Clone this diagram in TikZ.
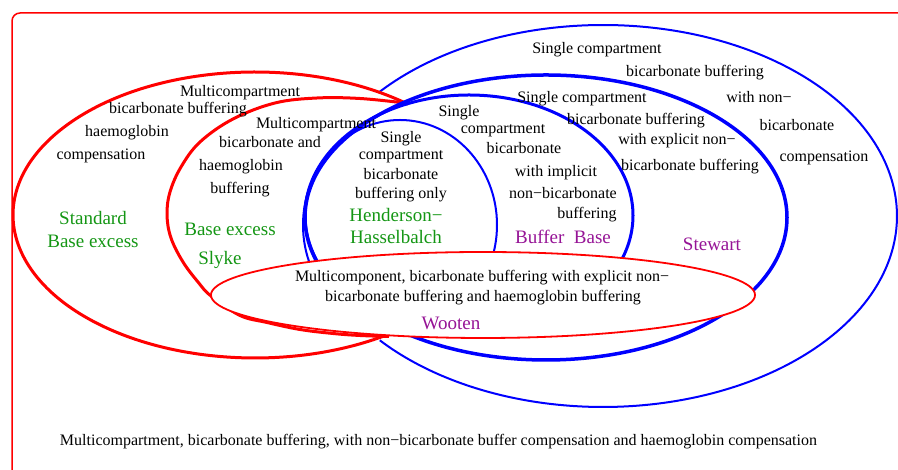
\documentclass[tikz,border=0pt]{standalone}
\usepackage{fontspec}
\setmainfont{Liberation Serif}
\definecolor{lgreen}{RGB}{20,150,20}
\definecolor{lpurple}{RGB}{150,20,150}
\begin{document}
\begin{tikzpicture}[x=1pt,y=1pt,
  txt/.style={font=\fontsize{16}{18}\selectfont, inner sep=0pt, anchor=center, execute at begin node=\strut},
  lbl/.style={font=\fontsize{19}{22}\selectfont, inner sep=0pt, anchor=center, execute at begin node=\strut},
  grn/.style={lbl, text=lgreen},
  prp/.style={lbl, text=lpurple},
  redthick/.style={draw=red, line width=3pt},
  bluethin/.style={draw=blue, line width=2pt},
  bluethick/.style={draw=blue, line width=3.5pt}]
\useasboundingbox (0,0) rectangle (898,470);
\clip (0,0) rectangle (898,470);
% frame
\draw[red, line width=1.5pt, rounded corners=8pt] (12,457) rectangle (930,-30);
% centres
\coordinate (cB1) at (603,254);
\coordinate (cE1) at (255,255);
\coordinate (cB2) at (546,252.5);
\coordinate (cB3) at (469,254.5);
\coordinate (cB4) at (400,245);
\coordinate (cW) at (483,175);
% outer blue (Stewart)
\draw[bluethin] (cB1) ++(139.4:294 and 191) arc[start angle=139.4, end angle=-139.4, x radius=294, y radius=191];
% standard base excess
\draw[redthick] (cE1) ++(50.8:242 and 143) arc[start angle=50.8, end angle=303.9, x radius=242, y radius=143];
% base excess slyke
\draw[redthick] plot[smooth, tension=0.6] coordinates {(405,367) (360,371.5) (317,372) (275,367) (233,351) (200,328) (181,303) (170,278) (167,255) (171,232) (183,208) (198,188) (211,174) (240,154.5) (267,147.5) (300,140.5) (333,136.5) (360,134.5) (389,133.5)};
% blue ellipses
\draw[bluethick] (cB2) ellipse[x radius=241, y radius=142.5];
\draw[blue, line width=3pt] (cB3) ellipse[x radius=164, y radius=120.5];
\draw[bluethin] (cB4) ellipse[x radius=97, y radius=105];
% Wooten
\draw[red, line width=1.8pt, fill=white] (cW) ellipse[x radius=272, y radius=43];
% texts
\begin{scope}[yshift=-2pt]
\node[txt] (n1) at (240,379) {Multicompartment};
\node[txt] (n2) at (178,362) {bicarbonate buffering};
\node[txt] (n3) at (127,339) {haemoglobin};
\node[txt] (n4) at (101,316) {compensation};
\node[grn] (g1) at (93,252) {Standard};
\node[grn] (g2) at (93,229) {Base excess};
\node[txt] (n5) at (316,347) {Multicompartment};
\node[txt] (n6) at (270,328) {bicarbonate and};
\node[txt] (n7) at (241,305) {haemoglobin};
\node[txt] (n8) at (240,282) {buffering};
\node[grn] (g3) at (230,241) {Base excess};
\node[grn] (g4) at (220,212) {Slyke};
\node[txt] (n9) at (401,333) {Single};
\node[txt] (n10) at (401,316) {compartment};
\node[txt] (n11) at (401,296) {bicarbonate};
\node[txt] (n12) at (401,277) {buffering only};
\node[grn] (g5) at (396,255) {Henderson−};
\node[grn] (g6) at (396,233) {Hasselbalch};
\node[txt] (n13) at (459,359) {Single};
\node[txt] (n14) at (503,342) {compartment};
\node[txt] (n15) at (524,322) {bicarbonate};
\node[txt] (n16) at (556,299) {with implicit};
\node[txt] (n17) at (563,277) {non−bicarbonate};
\node[txt] (n18) at (587,257) {buffering};
\node[prp] (p1) at (563,233) {Buffer\ \ Base};
\node[txt] (n19) at (582,373) {Single compartment};
\node[txt] (n20) at (636,351) {bicarbonate buffering};
\node[txt] (n21) at (677,331) {with explicit non−};
\node[txt] (n22) at (690,305) {bicarbonate buffering};
\node[prp] (p2) at (712,226) {Stewart};
\node[txt] (n23) at (597,422) {Single compartment};
\node[txt] (n24) at (695,399) {bicarbonate buffering};
\node[txt] (n25) at (759,373) {with non−};
\node[txt] (n26) at (797,345) {bicarbonate};
\node[txt] (n27) at (824,314) {compensation};
\node[txt] (n28) at (482,194) {Multicomponent, bicarbonate buffering with explicit non−};
\node[txt] (n29) at (483,174) {bicarbonate buffering and haemoglobin buffering};
\node[prp] (p3) at (451,147) {Wooten};
\node[txt] (n30) at (438.5,30) {Multicompartment, bicarbonate buffering, with non−bicarbonate buffer compensation and haemoglobin compensation};
\end{scope}
\end{tikzpicture}
\end{document}
